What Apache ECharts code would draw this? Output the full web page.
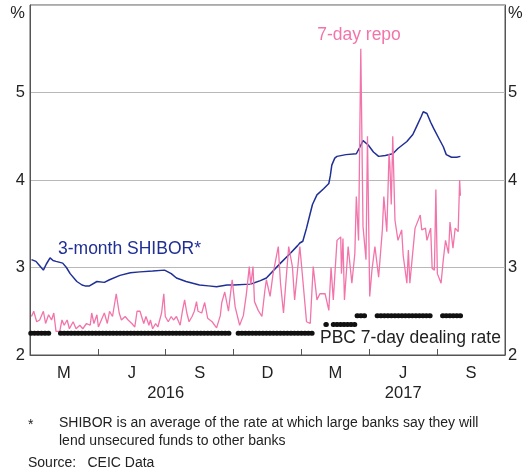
<!DOCTYPE html>
<html><head><meta charset="utf-8">
<script src="https://cdn.jsdelivr.net/npm/echarts@6/dist/echarts.min.js"></script>
<style>html,body{margin:0;padding:0;background:#fff}#c{width:531px;height:469px}</style>
</head><body><div id="c"></div>
<script>
// x positions are days since 1 January 2016; axis runs to 1 October 2017 (day 639)
const quarterLabels = ['M', 'J', 'S', 'D', 'M', 'J', 'S'];
const yearLabels = ['2016', '2017'];
const yMin = 2, yMax = 6, yStep = 1;
const xMaxDay = 639;

// 3-month SHIBOR
const shiborDays = [2, 8, 13, 18, 22, 27, 31, 35, 44, 49, 54, 63, 70, 74, 80, 90, 100, 107, 121, 135, 148, 165, 181, 190, 197, 210, 228, 240, 251, 265, 274, 296, 300, 310, 318, 337, 350, 360, 363, 367, 372, 377, 380, 386, 395, 402, 404, 406, 410, 413, 425, 439, 444, 448, 455, 462, 469, 478, 488, 495, 507, 515, 520, 526, 529, 534, 539, 543, 551, 556, 560, 567, 574, 579];
const shiborValues = [3.09, 3.07, 3.02, 2.97, 3.04, 3.11, 3.08, 3.07, 3.05, 3.00, 2.93, 2.84, 2.80, 2.79, 2.79, 2.84, 2.83, 2.86, 2.91, 2.94, 2.95, 2.96, 2.97, 2.93, 2.88, 2.84, 2.80, 2.79, 2.78, 2.80, 2.80, 2.81, 2.82, 2.85, 2.88, 3.05, 3.16, 3.25, 3.28, 3.30, 3.45, 3.62, 3.72, 3.83, 3.90, 3.96, 4.05, 4.17, 4.25, 4.27, 4.29, 4.30, 4.38, 4.45, 4.40, 4.32, 4.27, 4.28, 4.30, 4.36, 4.44, 4.52, 4.61, 4.72, 4.78, 4.76, 4.66, 4.59, 4.46, 4.38, 4.29, 4.26, 4.26, 4.27];

// 7-day repo
const repoDays = [2, 5, 9, 13, 18, 21, 25, 29, 32, 35, 40, 43, 46, 50, 53, 58, 62, 67, 71, 76, 81, 83, 86, 90, 92, 96, 100, 104, 107, 111, 116, 120, 123, 128, 132, 137, 141, 144, 148, 153, 156, 160, 162, 165, 169, 172, 177, 180, 182, 186, 190, 193, 197, 202, 205, 208, 211, 214, 218, 221, 224, 226, 231, 235, 239, 245, 251, 256, 258, 262, 267, 269, 272, 276, 282, 287, 291, 295, 297, 300, 302, 307, 312, 316, 318, 323, 327, 334, 337, 341, 348, 353, 356, 363, 367, 372, 377, 381, 386, 390, 397, 402, 405, 408, 413, 418, 419, 421, 423, 428, 433, 437, 439, 442, 445, 448, 452, 454, 457, 460, 464, 469, 474, 476, 480, 483, 484, 486, 488, 491, 495, 500, 502, 507, 509, 511, 514, 518, 525, 527, 532, 534, 539, 541, 544, 546, 548, 553, 556, 559, 563, 565, 569, 572, 576, 577, 578, 579];
const repoValues = [2.44, 2.50, 2.38, 2.40, 2.50, 2.36, 2.46, 2.40, 2.48, 2.27, 2.27, 2.40, 2.34, 2.40, 2.30, 2.38, 2.30, 2.34, 2.30, 2.36, 2.34, 2.48, 2.36, 2.46, 2.32, 2.40, 2.48, 2.36, 2.50, 2.44, 2.70, 2.48, 2.40, 2.44, 2.40, 2.36, 2.32, 2.50, 2.50, 2.36, 2.44, 2.34, 2.40, 2.30, 2.36, 2.32, 2.48, 2.70, 2.44, 2.38, 2.44, 2.40, 2.44, 2.34, 2.50, 2.63, 2.48, 2.38, 2.44, 2.50, 2.61, 2.50, 2.48, 2.60, 2.42, 2.38, 2.31, 2.45, 2.60, 2.72, 2.50, 2.65, 2.86, 2.55, 2.34, 2.45, 2.69, 3.01, 2.80, 3.01, 2.61, 2.51, 2.44, 2.74, 2.86, 2.67, 2.93, 3.24, 2.82, 2.48, 3.24, 3.01, 2.63, 3.24, 2.86, 2.38, 2.36, 3.01, 2.63, 2.70, 2.70, 2.51, 3.00, 2.63, 3.31, 3.35, 2.93, 3.33, 2.63, 3.24, 2.82, 3.16, 3.81, 3.31, 5.50, 3.47, 3.09, 4.50, 2.67, 2.97, 3.24, 2.89, 3.43, 3.81, 3.41, 4.30, 4.20, 3.72, 4.50, 3.54, 3.31, 3.43, 3.14, 2.82, 3.20, 2.82, 3.09, 3.45, 3.60, 3.43, 3.45, 3.31, 3.45, 2.99, 2.97, 3.89, 2.93, 2.82, 3.09, 3.31, 3.16, 3.52, 3.22, 3.45, 3.41, 3.42, 4.00, 3.82];

// PBC 7-day dealing rate: periods of operations (start day, end day, rate)
const pbcStart = [1, 41, 280, 398, 408, 440, 467, 555];
const pbcEnd   = [29, 268, 383, 399, 439, 451, 541, 581];
const pbcRate  = [2.25, 2.25, 2.25, 2.35, 2.35, 2.45, 2.45, 2.45];

const FONT = 'Liberation Sans, Arial, sans-serif';
const PINK = '#f274aa', NAVY = '#1f2f96', AXIS = '#555555';

const pair = (xs, ys) => xs.map((d, i) => [d, ys[i]]);
const pbcData = [];
pbcStart.forEach((s, i) => {
  pbcData.push([s, pbcRate[i]], [pbcEnd[i], pbcRate[i]], [ (s + pbcEnd[i]) / 2, null ]);
});
// year axis: 15 evenly spaced slots (half-quarters); years centred on their slots
const yearSlots = Array.from({length: 15}, (_, i) => '');
yearSlots[4] = yearLabels[0];
yearSlots[11] = yearLabels[1];

const yLabel = v => (v === yMax ? '\n%' : String(v));

const chart = echarts.init(document.getElementById('c'), null, {renderer: 'canvas'});
chart.setOption({
  animation: false,
  backgroundColor: '#fff',
  grid: {left: 30, right: 26, top: 5, bottom: 114, show: true, borderColor: AXIS, borderWidth: 1, containLabel: false, outerBoundsMode: 'none'},
  xAxis: [
    {type: 'value', min: 0, max: xMaxDay, show: false},
    {type: 'category', data: quarterLabels, boundaryGap: true, position: 'bottom',
     axisLine: {show: true, lineStyle: {color: AXIS, width: 1}},
     axisTick: {show: true, inside: true, length: 6, lineStyle: {color: AXIS}},
     axisLabel: {color: '#222', fontSize: 16.5, fontFamily: FONT, margin: 10, interval: 0},
     splitLine: {show: false}},
    {type: 'category', data: yearSlots, boundaryGap: false, position: 'bottom',
     axisLine: {show: false}, axisTick: {show: false},
     axisLabel: {color: '#222', fontSize: 16.5, fontFamily: FONT, margin: 30, interval: 0, showMinLabel: true, showMaxLabel: true},
     splitLine: {show: false}}
  ],
  yAxis: [
    {type: 'value', min: yMin, max: yMax, interval: yStep, position: 'left',
     axisLine: {show: true, lineStyle: {color: AXIS}}, axisTick: {show: false},
     axisLabel: {color: '#222', fontSize: 16.5, fontFamily: FONT, margin: 5, lineHeight: 17, formatter: yLabel},
     splitLine: {show: true, lineStyle: {color: '#b8b8b8', width: 1}}},
    {type: 'value', min: yMin, max: yMax, interval: yStep, position: 'right',
     axisLine: {show: true, lineStyle: {color: AXIS}}, axisTick: {show: false},
     axisLabel: {color: '#222', fontSize: 16.5, fontFamily: FONT, margin: 3, lineHeight: 17, formatter: yLabel},
     splitLine: {show: false}}
  ],
  series: [
    {name: '3-month SHIBOR', type: 'line', xAxisIndex: 0, yAxisIndex: 0, data: pair(shiborDays, shiborValues),
     showSymbol: false, lineStyle: {color: NAVY, width: 1.5}, z: 3},
    {name: '7-day repo', type: 'line', xAxisIndex: 0, yAxisIndex: 0, data: pair(repoDays, repoValues),
     showSymbol: false, lineStyle: {color: PINK, width: 1.3}, z: 4},
    {name: 'PBC 7-day dealing rate', type: 'line', xAxisIndex: 0, yAxisIndex: 0, data: pbcData,
     showSymbol: false, connectNulls: false,
     lineStyle: {color: '#111', width: 5, type: [0.5, 3], cap: 'round'}, z: 5}
  ],
  graphic: [
    {type: 'text', x: 359, y: 35, z: 10, style: {text: '7-day repo', fill: PINK, font: '17.5px ' + FONT, align: 'center', verticalAlign: 'middle'}},
    {type: 'text', x: 58, y: 249, z: 10, style: {text: '3-month SHIBOR*', fill: NAVY, font: '17.5px ' + FONT, align: 'left', verticalAlign: 'middle'}},
    {type: 'text', x: 319, y: 338, z: 10, style: {text: 'PBC 7-day dealing rate', fill: '#222', font: '17.5px ' + FONT, align: 'left', verticalAlign: 'middle', backgroundColor: '#fff', padding: [1, 2, 1, 1]}},
    {type: 'text', x: 28, y: 425, style: {text: '*', fill: '#222', font: '14px ' + FONT, align: 'left', verticalAlign: 'middle'}},
    {type: 'text', x: 59, y: 423, style: {text: 'SHIBOR is an average of the rate at which large banks say they will', fill: '#222', font: '14px ' + FONT, align: 'left', verticalAlign: 'middle'}},
    {type: 'text', x: 59, y: 441.5, style: {text: 'lend unsecured funds to other banks', fill: '#222', font: '14px ' + FONT, align: 'left', verticalAlign: 'middle'}},
    {type: 'text', x: 28, y: 463.5, style: {text: 'Source:', fill: '#222', font: '14px ' + FONT, align: 'left', verticalAlign: 'middle'}},
    {type: 'text', x: 87.5, y: 463.5, style: {text: 'CEIC Data', fill: '#222', font: '14px ' + FONT, align: 'left', verticalAlign: 'middle'}}
  ]
});
</script>
</body></html>
